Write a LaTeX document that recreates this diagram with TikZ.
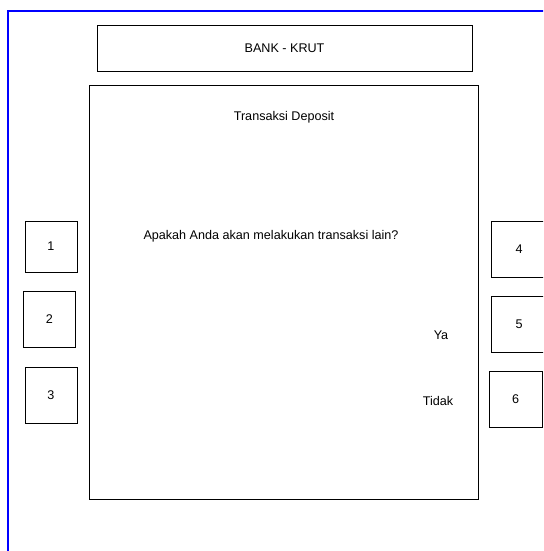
\documentclass[tikz,border=0pt]{standalone}
\usepackage{fontspec}
\setmainfont{Liberation Sans}
\begin{document}
\begin{tikzpicture}[x=1pt,y=-1pt,
  txt/.style={inner sep=0pt, font=\fontsize{12.6}{15}\selectfont},
  box/.style={draw=black, line width=1pt, inner sep=0pt, font=\fontsize{12.6}{15}\selectfont},
  keybox/.style={box, minimum width=52pt, minimum height=54pt},
  frameline/.style={draw=blue, line width=1.3pt}]
  \useasboundingbox (0,0) rectangle (543,551);
  \clip (0,0) rectangle (543,551);
  \fill[white] (0,0) rectangle (543,551);

  % outer frame
  \coordinate (fbl) at (8,552);
  \coordinate (ftl) at (8,11);
  \coordinate (ftr) at (544,11);
  \draw[frameline] (fbl) -- (ftl) -- (ftr);

  % header and screen
  \node[box, minimum width=375pt, minimum height=45pt] (header) at (284.5,48.5) {BANK - KRUT};
  \node[box, minimum width=389pt, minimum height=414pt] (screen) at (283.5,292) {};

  % screen texts
  \node[txt] (title) at (284,117) {Transaksi Deposit};
  \node[txt] (question) at (271,236) {Apakah Anda akan melakukan transaksi lain?};
  \node[txt] (yes) at (441,335) {Ya};
  \node[txt] (no) at (438,401) {Tidak};

  % left keys
  \node[keybox, minimum height=51pt] (k1) at (51,246.5) {1};
  \node[keybox, minimum height=56pt] (k2) at (49.5,319) {2};
  \node[keybox, minimum height=56pt] (k3) at (51,395) {3};

  % right keys
  \node[keybox, minimum width=56pt, minimum height=56pt] (k4) at (519,249) {4};
  \node[keybox, minimum width=56pt, minimum height=56pt] (k5) at (519,324) {5};
  \node[keybox, minimum width=53pt, minimum height=56pt] (k6) at (515.5,399) {6};
\end{tikzpicture}
\end{document}
